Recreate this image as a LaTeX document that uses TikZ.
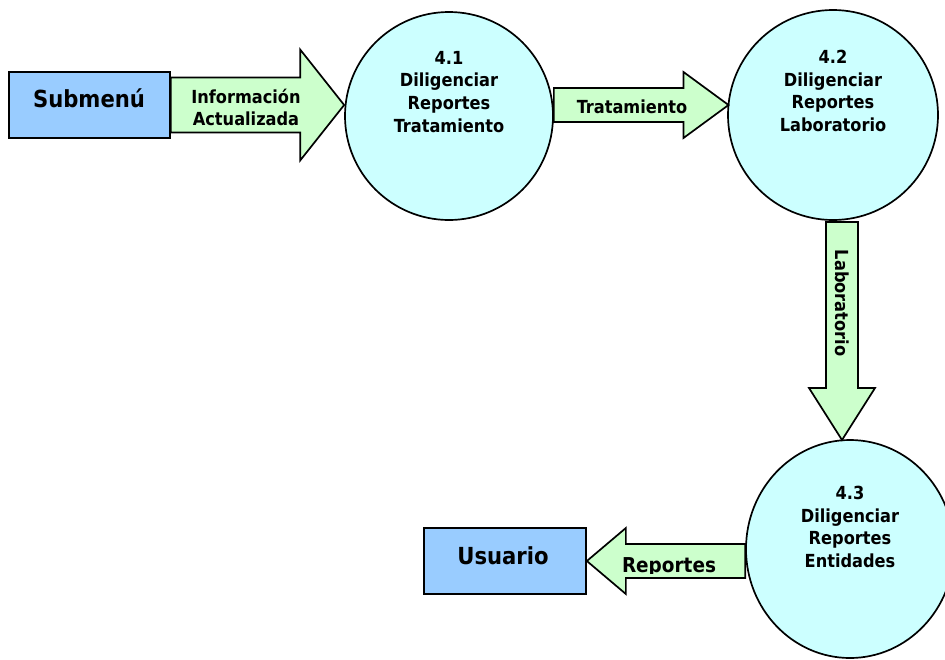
\documentclass[tikz,border=0pt]{standalone}
\usepackage{fontspec}
\setmainfont{DejaVu Sans Condensed}
\usetikzlibrary{calc,shapes.geometric}

\definecolor{entityfill}{HTML}{99CCFF}
\definecolor{processfill}{HTML}{CCFFFF}
\definecolor{flowfill}{HTML}{CCFFCC}

\tikzset{
  outline/.style={draw=black, line width=1.7pt, line join=miter},
  entity/.style={outline, fill=entityfill, rectangle, inner sep=0pt},
  process/.style={outline, fill=processfill, inner sep=0pt},
  flow/.style={outline, fill=flowfill},
  proctext/.style={inner sep=0pt, align=center, anchor=north,
    font={\fontsize{18}{22.6}\selectfont\bfseries}},
  flowtext/.style={inner sep=0pt, font={\fontsize{18}{22}\selectfont\bfseries}},
  entitytext/.style={inner sep=0pt, anchor=base, font={\fontsize{23.5}{27}\selectfont\bfseries}},
}

% Block arrow: #1 tail, #2 tip, #3 shaft half-width, #4 head half-width, #5 head length
\newcommand\blockarrow[5]{%
  \coordinate (ba-base) at ($(#2)!#5!(#1)$);
  \draw[flow] ($(#1)!#3!90:(#2)$) -- ($(ba-base)!#3!90:(#2)$)
    -- ($(ba-base)!#4!90:(#2)$) -- (#2) -- ($(ba-base)!#4!-90:(#2)$)
    -- ($(ba-base)!#3!-90:(#2)$) -- ($(#1)!#3!-90:(#2)$) -- cycle;}

\begin{document}
\begin{tikzpicture}[x=1pt,y=-1pt]
  \clip (0,0) rectangle (945,659);
  \fill[white] (0,0) rectangle (945,659);

  % external entities
  \node[entity, minimum width=161pt, minimum height=66pt] (sub) at (89.5,105) {};
  \node[entitytext] (sub-t) at (89,107) {Submenú};
  \node[entity, minimum width=162pt, minimum height=66pt] (usr) at (505,561) {};
  \node[entitytext] (usr-t) at (503,564) {Usuario};

  % processes
  \node[process, circle, minimum size=208pt] (p1) at (449,116) {};
  \node[process, circle, minimum size=210pt] (p2) at (833,115) {};
  \node[process, ellipse, minimum width=208pt, minimum height=218pt] (p3) at (850,549) {};

  \node[proctext] (p1-t) at (449,51) {4.1\\Diligenciar\\Reportes\\Tratamiento};
  \node[proctext] (p2-t) at (833,50) {4.2\\Diligenciar\\Reportes\\Laboratorio};
  \node[proctext] (p3-t) at (850,486) {4.3\\Diligenciar\\Reportes\\Entidades};

  % data flows
  \coordinate (f1-tip) at (p1.west |- sub.east);
  \blockarrow{sub.east}{f1-tip}{27.5pt}{55.5pt}{44pt}

  \coordinate (f2-tail) at (p1.east |- 0,105);
  \coordinate (f2-tip) at (728.5,105);
  \blockarrow{f2-tail}{f2-tip}{17pt}{33pt}{45pt}

  \coordinate (f3-tail) at (842,222);
  \coordinate (f3-tip) at (842 ,440);
  \blockarrow{f3-tail}{f3-tip}{16pt}{33pt}{52pt}

  \coordinate (f4-tail) at (p3.west |- usr.east);
  \blockarrow{f4-tail}{usr.east}{17pt}{33pt}{39pt}

  % flow labels
  \node[flowtext, align=center, anchor=north] (f1-t) at (246,88.5) {Información\\Actualizada};
  \node[flowtext, anchor=base] (f2-t) at (632,113) {Tratamiento};
  \node[flowtext, rotate=-90, anchor=center] (f3-t) at (842,303) {Laboratorio};
  \begin{scope}
    \clip (600,535) rectangle (744,573);
    \node[flowtext, anchor=base, font={\fontsize{20.5}{24}\selectfont\bfseries}] (f4-t) at (669,572) {Reportes};
  \end{scope}
\end{tikzpicture}
\end{document}
